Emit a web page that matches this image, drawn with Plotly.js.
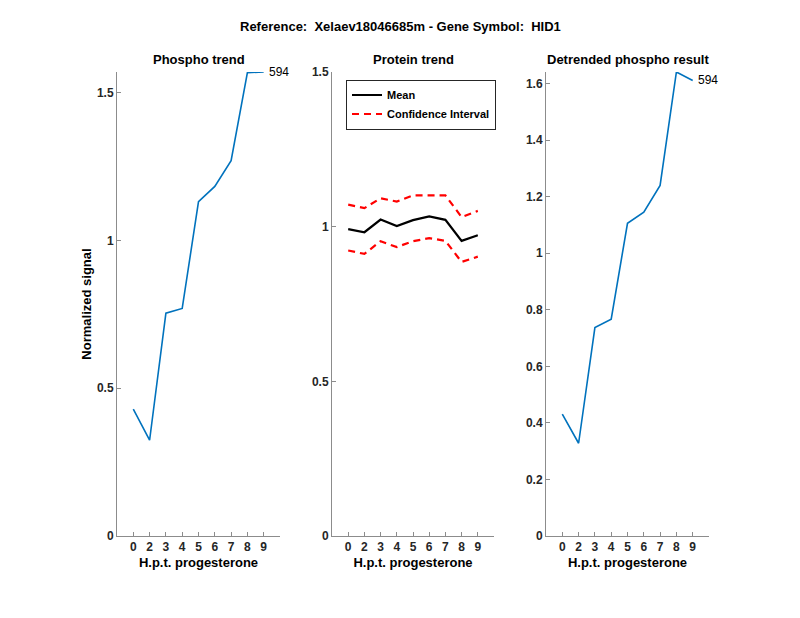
<!DOCTYPE html>
<html>
<head>
<meta charset="utf-8">
<script src="https://cdn.plot.ly/plotly-3.0.1.min.js"></script>
<style>html,body{margin:0;padding:0;background:#fff;}#chart{width:800px;height:618px;}</style>
</head>
<body>
<div id="chart"></div>
<script>
const hpt = ['0','2','3','4','5','6','7','8','9'];
const phospho = [0.429, 0.324, 0.754, 0.770, 1.131, 1.183, 1.270, 1.568, 1.570];
const proteinMean = [0.992, 0.982, 1.023, 1.002, 1.021, 1.033, 1.022, 0.954, 0.972];
const proteinUpper = [1.071, 1.060, 1.092, 1.081, 1.101, 1.101, 1.101, 1.031, 1.051];
const proteinLower = [0.923, 0.912, 0.953, 0.934, 0.953, 0.963, 0.954, 0.886, 0.903];
const detrended = [0.431, 0.328, 0.737, 0.767, 1.106, 1.145, 1.240, 1.641, 1.611];
const peptideLabel = '594';

const W = 800, H = 618;
const yBot = 1 - 536 / H, yTop = 1 - 72 / H;
const FONT = 'Liberation Sans, Arial, Helvetica, sans-serif';
const tickFont = {family: FONT, size: 12, color: '#262626', weight: 'bold'};
const titleFont = {family: FONT, size: 13, color: '#000', weight: 'bold'};

function xax(x0, x1, anchor) {
  return {
    domain: [x0 / W, x1 / W], anchor: anchor, type: 'category',
    range: [-1, hpt.length], showline: true, linecolor: '#8c8c8c', linewidth: 1,
    ticks: 'inside', ticklen: 4, tickcolor: '#8c8c8c', showgrid: false, zeroline: false,
    tickfont: tickFont, fixedrange: true,
    title: {text: 'H.p.t. progesterone', font: titleFont, standoff: 4}
  };
}
function yax(anchor, top, dtick) {
  return {
    domain: [yBot, yTop], anchor: anchor, range: [0, top], dtick: dtick, tick0: 0,
    showline: true, linecolor: '#8c8c8c', linewidth: 1,
    ticks: 'inside', ticklen: 4, tickcolor: '#8c8c8c', showgrid: false, zeroline: false,
    tickfont: tickFont, fixedrange: true
  };
}

const traces = [
  {x: hpt, y: phospho, xaxis: 'x', yaxis: 'y', mode: 'lines', line: {color: '#0072BD', width: 1.6}, showlegend: false},
  {x: hpt, y: proteinMean, xaxis: 'x2', yaxis: 'y2', mode: 'lines', name: 'Mean', line: {color: '#000', width: 2.2}},
  {x: hpt, y: proteinUpper, xaxis: 'x2', yaxis: 'y2', mode: 'lines', name: 'Confidence Interval', line: {color: '#ff0000', width: 2.2, dash: '7px,5px'}},
  {x: hpt, y: proteinLower, xaxis: 'x2', yaxis: 'y2', mode: 'lines', name: 'Confidence Interval', showlegend: false, line: {color: '#ff0000', width: 2.2, dash: '7px,5px'}},
  {x: hpt, y: detrended, xaxis: 'x3', yaxis: 'y3', mode: 'lines', line: {color: '#0072BD', width: 1.6}, showlegend: false}
];

const y1 = yax('x', Math.max(...phospho), 0.5);
y1.title = {text: 'Normalized signal', font: titleFont, standoff: 2};

const lastIdx = hpt.length - 1;

const layout = {
  width: W, height: H, margin: {l: 0, r: 0, t: 0, b: 0},
  paper_bgcolor: '#fff', plot_bgcolor: '#fff',
  font: {family: FONT},
  xaxis: xax(117, 280, 'y'),
  yaxis: y1,
  xaxis2: xax(332, 494, 'y2'),
  yaxis2: yax('x2', 1.5, 0.5),
  xaxis3: xax(546, 709, 'y3'),
  yaxis3: yax('x3', Math.max(...detrended), 0.2),
  showlegend: true,
  legend: {
    x: 346 / W, y: 1 - 79.5 / H, xanchor: 'left', yanchor: 'top',
    bgcolor: '#fff', bordercolor: '#262626', borderwidth: 1,
    font: {family: FONT, size: 11, color: '#000', weight: 'bold'},
    tracegroupgap: 0, itemwidth: 30
  },
  annotations: [
    {text: 'Reference:  Xelaev18046685m - Gene Symbol:  HID1', xref: 'paper', yref: 'paper', x: 0.5, y: 1 - 27 / H, showarrow: false, font: titleFont, xanchor: 'center', yanchor: 'middle'},
    {text: 'Phospho trend', xref: 'paper', yref: 'paper', x: 198.5 / W, y: 1 - 60 / H, showarrow: false, font: titleFont, xanchor: 'center', yanchor: 'middle'},
    {text: 'Protein trend', xref: 'paper', yref: 'paper', x: 413 / W, y: 1 - 60 / H, showarrow: false, font: titleFont, xanchor: 'center', yanchor: 'middle'},
    {text: 'Detrended phospho result', xref: 'paper', yref: 'paper', x: 627.5 / W, y: 1 - 60 / H, showarrow: false, font: titleFont, xanchor: 'center', yanchor: 'middle'},
    {text: peptideLabel, xref: 'x', yref: 'y', x: lastIdx, y: phospho[lastIdx], xanchor: 'left', yanchor: 'middle', xshift: 3, showarrow: false, font: {family: FONT, size: 12, color: '#000'}},
    {text: peptideLabel, xref: 'x3', yref: 'y3', x: lastIdx, y: detrended[lastIdx], xanchor: 'left', yanchor: 'middle', xshift: 3, showarrow: false, font: {family: FONT, size: 12, color: '#000'}}
  ]
};

Plotly.newPlot('chart', traces, layout, {displayModeBar: false, staticPlot: true});
</script>
</body>
</html>
